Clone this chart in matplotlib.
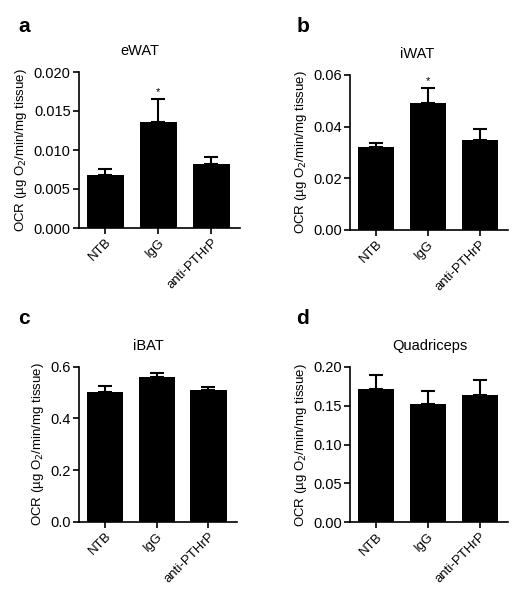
import matplotlib
matplotlib.use("Agg")
import matplotlib.pyplot as plt

plt.rcParams['font.family'] = ['Liberation Sans', 'DejaVu Sans']

groups = ["NTB", "IgG", "anti-PTHrP"]

ewat_mean = [0.00675, 0.0136, 0.0082]
ewat_err = [0.00085, 0.0029, 0.0009]

iwat_mean = [0.0322, 0.0493, 0.0348]
iwat_err = [0.0013, 0.0055, 0.0042]

ibat_mean = [0.503, 0.561, 0.508]
ibat_err = [0.022, 0.016, 0.013]

quad_mean = [0.172, 0.152, 0.164]
quad_err = [0.017, 0.017, 0.019]

panels = [
    dict(letter="a", title="eWAT", mean=ewat_mean, err=ewat_err,
         ylim=0.020, ticks=[0.0, 0.005, 0.010, 0.015, 0.020], fmt="{:.3f}", star=True,
         rect=[0.1525, 0.62, 0.311, 0.26], title_x=0.27, letter_xy=(0.035, 0.955)),
    dict(letter="b", title="iWAT", mean=iwat_mean, err=iwat_err,
         ylim=0.06, ticks=[0.0, 0.02, 0.04, 0.06], fmt="{:.2f}", star=True,
         rect=[0.676, 0.617, 0.305, 0.258], title_x=0.805, letter_xy=(0.572, 0.955)),
    dict(letter="c", title="iBAT", mean=ibat_mean, err=ibat_err,
         ylim=0.6, ticks=[0.0, 0.2, 0.4, 0.6], fmt="{:.1f}", star=False,
         rect=[0.1525, 0.1305, 0.305, 0.2585], title_x=0.286, letter_xy=(0.035, 0.47)),
    dict(letter="d", title="Quadriceps", mean=quad_mean, err=quad_err,
         ylim=0.20, ticks=[0.0, 0.05, 0.10, 0.15, 0.20], fmt="{:.2f}", star=False,
         rect=[0.676, 0.1295, 0.305, 0.259], title_x=0.83, letter_xy=(0.572, 0.47)),
]

fig = plt.figure(figsize=(5.18, 6.0), dpi=100)

x = list(range(len(groups)))
for p in panels:
    ax = fig.add_axes(p["rect"])
    ax.bar(x, p["mean"], width=0.7, color="black", zorder=2)
    ax.errorbar(x, p["mean"], yerr=[[0] * 3, p["err"]], fmt="none", ecolor="black",
                elinewidth=1.5, capsize=5, capthick=1.5, zorder=1)
    ax.set_xlim(-0.5, 2.55)
    ax.set_ylim(0, p["ylim"])
    ax.set_yticks(p["ticks"])
    ax.set_yticklabels([p["fmt"].format(t) for t in p["ticks"]], fontsize=10.5)
    ax.set_xticks(x)
    ax.set_xticklabels(groups, rotation=45, ha="right", rotation_mode="anchor", fontsize=9.5)
    for s in ["top", "right"]:
        ax.spines[s].set_visible(False)
    for s in ["left", "bottom"]:
        ax.spines[s].set_linewidth(1.2)
    ax.tick_params(direction="out", length=4, width=1.2, pad=2)
    ax.set_ylabel("OCR (\u00b5g O$_2$/min/mg tissue)", fontsize=9.5, labelpad=3)
    if p["star"]:
        i = 1
        ax.text(x[i], p["mean"][i] + p["err"][i] + p["ylim"] * 0.015, "*",
                ha="center", va="bottom", fontsize=8)
    fig.text(p["title_x"], p["rect"][1] + p["rect"][3] + 0.035, p["title"],
             ha="center", va="center", fontsize=10.5)
    fig.text(p["letter_xy"][0], p["letter_xy"][1], p["letter"], ha="left", va="center",
             fontsize=15, fontweight="bold")

fig.savefig("out.png", dpi=100, facecolor="white")
